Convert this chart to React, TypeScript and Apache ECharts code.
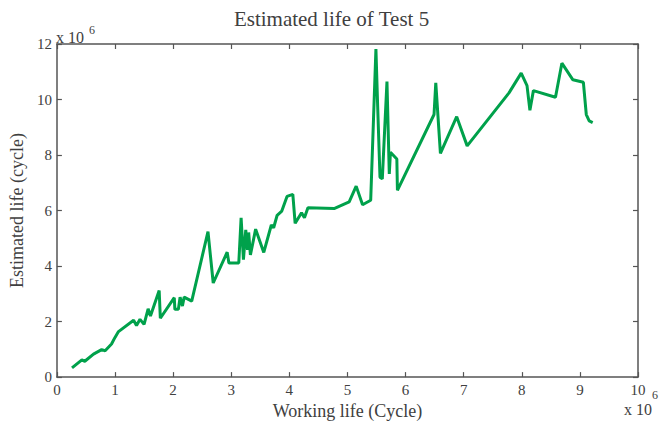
import React, { useEffect, useRef } from "react";
import * as echarts from "echarts";

const workingLife: number[] = [
  0.26, 0.43, 0.48, 0.63, 0.77, 0.83, 0.94, 1.0, 1.06, 1.32, 1.37, 1.43, 1.5, 1.57, 1.61, 1.76, 1.78,
  2.02, 2.03, 2.09, 2.12, 2.16, 2.19, 2.32, 2.6, 2.69, 2.93, 2.96, 3.13, 3.17, 3.21, 3.25, 3.28, 3.3,
  3.33, 3.42, 3.56, 3.69, 3.73, 3.79, 3.87, 3.96, 4.06, 4.1, 4.21, 4.26, 4.32, 4.77, 5.03, 5.15, 5.26,
  5.4, 5.49, 5.52, 5.56, 5.6, 5.68, 5.72, 5.74, 5.85, 5.86, 6.49, 6.52, 6.6, 6.88, 7.06, 7.78, 7.99,
  8.09, 8.14, 8.2, 8.58, 8.69, 8.88, 9.06, 9.11, 9.16, 9.22,
];
const estimatedLife: number[] = [
  0.33, 0.62, 0.57, 0.83, 0.99, 0.95, 1.19, 1.43, 1.64, 2.05, 1.86, 2.08, 1.9, 2.46, 2.2, 3.12, 2.12,
  2.86, 2.44, 2.44, 2.88, 2.56, 2.88, 2.74, 5.24, 3.39, 4.5, 4.11, 4.11, 5.74, 4.23, 5.3, 4.58, 5.21,
  4.4, 5.33, 4.49, 5.48, 5.38, 5.83, 5.98, 6.51, 6.58, 5.54, 5.92, 5.74, 6.1, 6.07, 6.31, 6.88, 6.21,
  6.37, 11.82, 9.76, 7.2, 7.14, 10.65, 7.32, 8.1, 7.86, 6.73, 9.46, 10.6, 8.06, 9.38, 8.33, 10.24,
  10.95, 10.5, 9.61, 10.32, 10.08, 11.31, 10.71, 10.62, 9.46, 9.23, 9.17,
];

const FONT = "'Liberation Serif', 'DejaVu Serif', serif";
const TXT = "#404040";
const AX = "#555555";

export default function App() {
  const ref = useRef<HTMLDivElement>(null);
  useEffect(() => {
    document.body.style.margin = "0";
    if (!ref.current) return;
    const chart = echarts.init(ref.current, undefined, { renderer: "svg" });
    const data = workingLife.map((x, i) => [x, estimatedLife[i]]);
    const axisLine = { show: true, onZero: false, lineStyle: { color: AX, width: 1.5 } };
    const tick = { show: true, inside: true, length: 5, lineStyle: { color: AX, width: 1.2 } };
    chart.setOption({
      animation: false,
      backgroundColor: "#ffffff",
      title: {
        text: "Estimated life of Test 5",
        left: "center",
        top: 3,
        textStyle: { fontFamily: FONT, fontSize: 21, fontWeight: "normal", color: TXT },
      },
      grid: { left: 55, right: 25, top: 44, bottom: 45, show: false },
      xAxis: [
        {
          type: "value",
          min: 0,
          max: 10,
          interval: 1,
          position: "bottom",
          axisLine,
          axisTick: tick,
          splitLine: { show: false },
          axisLabel: { fontFamily: FONT, fontSize: 15, color: TXT, margin: 5 },
          name: "Working life (Cycle)",
          nameLocation: "middle",
          nameGap: 22,
          nameTextStyle: { fontFamily: FONT, fontSize: 18, color: TXT },
        },
        {
          type: "value",
          min: 0,
          max: 10,
          interval: 1,
          position: "top",
          axisLine,
          axisTick: tick,
          splitLine: { show: false },
          axisLabel: { show: false },
        },
      ],
      yAxis: [
        {
          type: "value",
          min: 0,
          max: 12,
          interval: 2,
          position: "left",
          axisLine,
          axisTick: tick,
          splitLine: { show: false },
          axisLabel: { fontFamily: FONT, fontSize: 15, color: TXT, margin: 5 },
          name: "Estimated life (cycle)",
          nameLocation: "middle",
          nameGap: 30,
          nameTextStyle: { fontFamily: FONT, fontSize: 18, color: TXT },
        },
        {
          type: "value",
          min: 0,
          max: 12,
          interval: 2,
          position: "right",
          axisLine,
          axisTick: tick,
          splitLine: { show: false },
          axisLabel: { show: false },
        },
      ],
      series: [
        {
          type: "line",
          data,
          showSymbol: false,
          lineStyle: { color: "#00a14b", width: 3 },
          itemStyle: { color: "#00a14b" },
        },
      ],
      graphic: [
        { type: "text", left: 56, top: 29, style: { text: "x 10", font: `16px ${FONT}`, fill: TXT } },
        { type: "text", left: 89, top: 24, style: { text: "6", font: `12px ${FONT}`, fill: TXT } },
        { type: "text", left: 624, top: 401, style: { text: "x 10", font: `16px ${FONT}`, fill: TXT } },
        { type: "text", left: 652, top: 389, style: { text: "6", font: `12px ${FONT}`, fill: TXT } },
      ],
    });
    return () => chart.dispose();
  }, []);
  return <div ref={ref} style={{ width: 663, height: 425 }} />;
}
